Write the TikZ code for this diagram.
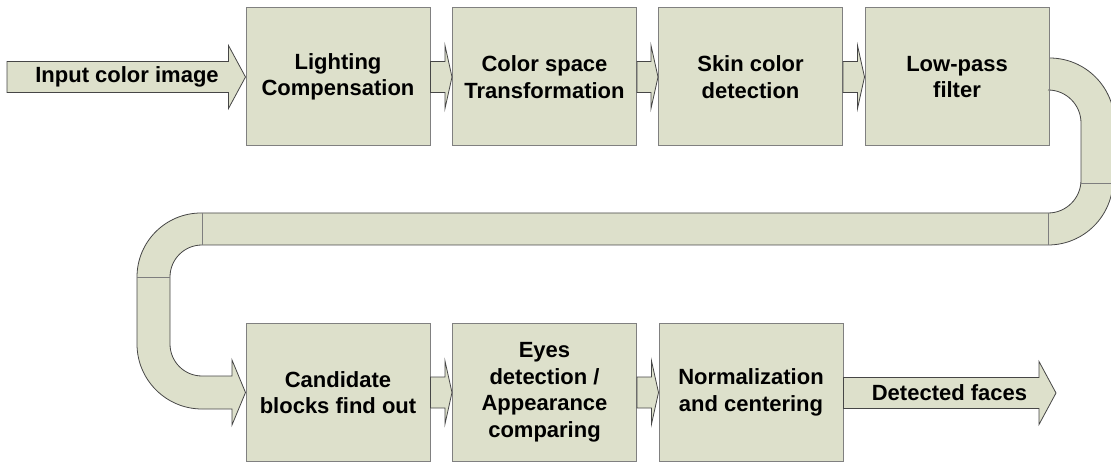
\documentclass[tikz,border=0pt]{standalone}
\usepackage{fontspec}
\setmainfont{Liberation Sans}
\usetikzlibrary{calc}
\definecolor{boxfill}{RGB}{221,224,203}
\definecolor{boxline}{RGB}{128,128,128}
\definecolor{arrline}{RGB}{70,70,70}
\tikzset{
  procbox/.style={draw=boxline, line width=1pt, fill=boxfill, minimum width=184pt, minimum height=138pt,
    inner sep=0pt, align=center, font=\bfseries\fontsize{22}{26.5}\selectfont},
  barrow/.style={draw=arrline, line width=0.8pt, fill=boxfill, line join=miter},
  divider/.style={draw=arrline!70, line width=0.6pt},
  arrlabel/.style={font=\bfseries\fontsize{22}{26.5}\selectfont, inner sep=0pt}
}
\newcommand{\blockarrow}[3]{%
  \draw[barrow] let \p1=(#1), \p2=(#2) in
    (\x1,\y2+15.5) -- (\x2-#3,\y2+15.5) -- (\x2-#3,\y2+31.5) -- (\x2,\y2)
    -- (\x2-#3,\y2-31.5) -- (\x2-#3,\y2-15.5) -- (\x1,\y2-15.5) -- cycle;}
\begin{document}
\begin{tikzpicture}[x=1pt,y=1pt]
\useasboundingbox (0,0) rectangle (1111,-462);
% boxes
\node[procbox] (b1) at (338,-77) {Lighting\\Compensation};
\node[procbox] (b2) at (544.5,-77) {Color space\\Transformation};
\node[procbox] (b3) at (750.5,-77) {Skin color\\detection};
\node[procbox] (b4) at (957,-77) {Low-pass\\filter};
\node[procbox] (b5) at (338,-392.5) {Candidate\\blocks find out};
\node[procbox] (b6) at (544.5,-392.5) {Eyes\\detection /\\Appearance\\comparing};
\node[procbox] (b7) at (751,-392.5) {Normalization\\and centering};
% free ends
\coordinate (inS) at (7,-77);
\coordinate (outT) at (1056,-393);
% input / output arrows
\blockarrow{inS}{b1.west}{17}
\node[arrlabel] (inL) at (127,-77) {Input color image};
\blockarrow{b7.east}{outT}{17}
\node[arrlabel] (outL) at (949.5,-393) {Detected faces};
% small arrows
\blockarrow{b1.east}{b2.west}{7}
\blockarrow{b2.east}{b3.west}{7}
\blockarrow{b3.east}{b4.west}{7}
\blockarrow{b5.east}{b6.west}{7}
\blockarrow{b6.east}{b7.west}{7}
% U-turn band from b4 to b5
\draw[barrow] ($(b4.east)+(0,19)$) arc[start angle=90, end angle=0, radius=65]
  -- (1113,-180) arc[start angle=0, end angle=-90, radius=65]
  -- (202,-245) arc[start angle=90, end angle=180, radius=32]
  -- (170,-344) arc[start angle=180, end angle=270, radius=32]
  -- (232,-376) -- (232,-360) -- (b5.west) -- (232,-425) -- (232,-409)
  -- (202,-409) arc[start angle=270, end angle=180, radius=65]
  -- (137,-277) arc[start angle=180, end angle=90, radius=64]
  -- (1048,-213) arc[start angle=270, end angle=360, radius=33]
  -- (1081,-123) arc[start angle=0, end angle=90, radius=33]
  -- ($(b4.east)+(0,-13)$) -- cycle;
\draw[divider] (1048,-213) -- (1048,-245);
\draw[divider] (1081,-183) -- (1113,-183);
\draw[divider] (202,-213) -- (202,-245);
\draw[divider] (137,-277) -- (170,-277);
% redraw b4 and b5 edges over the band
\draw[boxline, line width=1pt] (b4.north east) -- (b4.south east);
\end{tikzpicture}
\end{document}
